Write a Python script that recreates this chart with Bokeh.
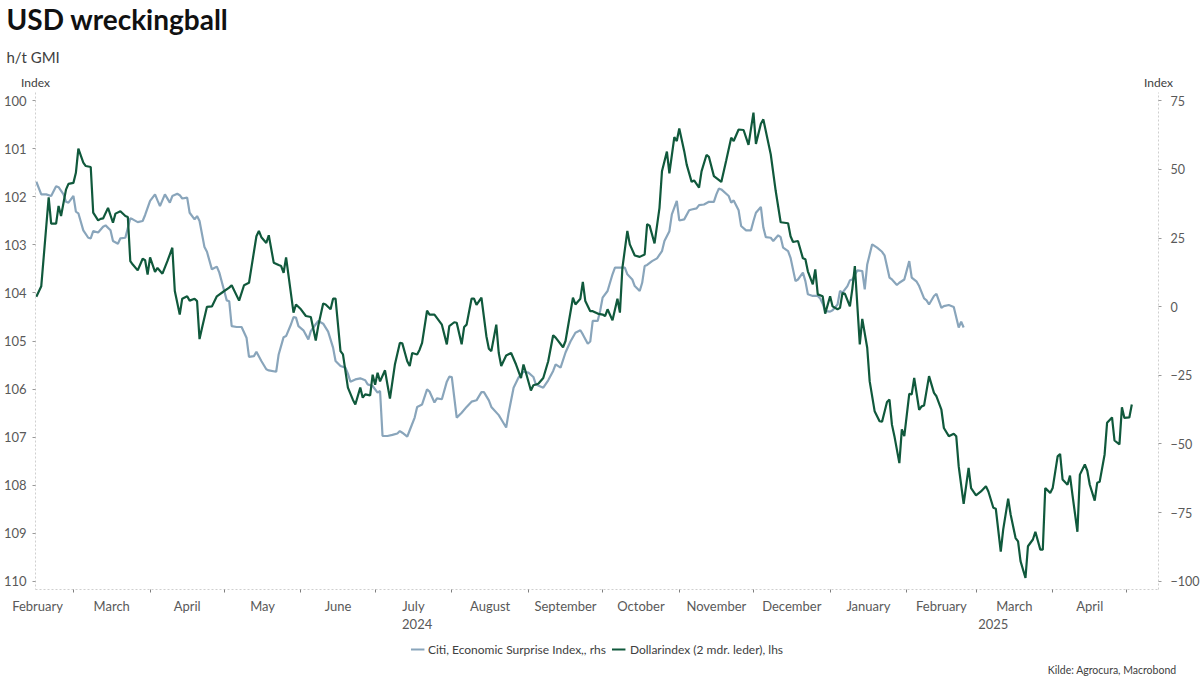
import pandas as pd
from bokeh.plotting import figure
from bokeh.layouts import column
from bokeh.models import (Range1d, LinearAxis, DatetimeAxis, FixedTicker, Legend, LegendItem,
                          Title, ColumnDataSource)
from bokeh.embed import file_html
from bokeh.resources import INLINE

# ---------------- data ----------------
dollar_dates = [
    "2024-02-15", "2024-02-17", "2024-02-20", "2024-02-21", "2024-02-23", "2024-02-24", "2024-02-25", "2024-02-27",
    "2024-02-28", "2024-03-01", "2024-03-02", "2024-03-03", "2024-03-05", "2024-03-06", "2024-03-08", "2024-03-09",
    "2024-03-11", "2024-03-12", "2024-03-13", "2024-03-15", "2024-03-17", "2024-03-18", "2024-03-20", "2024-03-22",
    "2024-03-23", "2024-03-24", "2024-03-25", "2024-03-27", "2024-03-29", "2024-03-30", "2024-03-31", "2024-04-01",
    "2024-04-03", "2024-04-04", "2024-04-06", "2024-04-08", "2024-04-10", "2024-04-11", "2024-04-13", "2024-04-14",
    "2024-04-16", "2024-04-17", "2024-04-19", "2024-04-20", "2024-04-21", "2024-04-22", "2024-04-24", "2024-04-26",
    "2024-04-28", "2024-05-01", "2024-05-03", "2024-05-04", "2024-05-07", "2024-05-09", "2024-05-11", "2024-05-14",
    "2024-05-15", "2024-05-16", "2024-05-18", "2024-05-19", "2024-05-21", "2024-05-23", "2024-05-24", "2024-05-25",
    "2024-05-26", "2024-05-29", "2024-05-30", "2024-06-01", "2024-06-03", "2024-06-05", "2024-06-07", "2024-06-08",
    "2024-06-10", "2024-06-11", "2024-06-13", "2024-06-14", "2024-06-15", "2024-06-17", "2024-06-18", "2024-06-20",
    "2024-06-22", "2024-06-23", "2024-06-25", "2024-06-26", "2024-06-27", "2024-06-29", "2024-06-30", "2024-07-01",
    "2024-07-02", "2024-07-03", "2024-07-05", "2024-07-06", "2024-07-07", "2024-07-09", "2024-07-11", "2024-07-12",
    "2024-07-14", "2024-07-15", "2024-07-16", "2024-07-18", "2024-07-19", "2024-07-20", "2024-07-22", "2024-07-23",
    "2024-07-25", "2024-07-28", "2024-07-30", "2024-07-31", "2024-08-02", "2024-08-03", "2024-08-05", "2024-08-06",
    "2024-08-07", "2024-08-09", "2024-08-10", "2024-08-11", "2024-08-13", "2024-08-15", "2024-08-16", "2024-08-17",
    "2024-08-19", "2024-08-20", "2024-08-21", "2024-08-23", "2024-08-25", "2024-08-27", "2024-08-29", "2024-08-30",
    "2024-08-31", "2024-09-02", "2024-09-03", "2024-09-05", "2024-09-07", "2024-09-09", "2024-09-11", "2024-09-12",
    "2024-09-15", "2024-09-16", "2024-09-19", "2024-09-20", "2024-09-22", "2024-09-23", "2024-09-24", "2024-09-26",
    "2024-09-27", "2024-09-29", "2024-10-01", "2024-10-02", "2024-10-03", "2024-10-05", "2024-10-07", "2024-10-08",
    "2024-10-09", "2024-10-11", "2024-10-12", "2024-10-14", "2024-10-16", "2024-10-18", "2024-10-19", "2024-10-20",
    "2024-10-22", "2024-10-24", "2024-10-25", "2024-10-27", "2024-10-28", "2024-10-30", "2024-10-31", "2024-11-01",
    "2024-11-03", "2024-11-04", "2024-11-06", "2024-11-07", "2024-11-09", "2024-11-10", "2024-11-12", "2024-11-13",
    "2024-11-15", "2024-11-18", "2024-11-20", "2024-11-22", "2024-11-23", "2024-11-25", "2024-11-27", "2024-11-29",
    "2024-12-01", "2024-12-02", "2024-12-04", "2024-12-05", "2024-12-08", "2024-12-10", "2024-12-12", "2024-12-15",
    "2024-12-16", "2024-12-17", "2024-12-19", "2024-12-21", "2024-12-22", "2024-12-23", "2024-12-25", "2024-12-26",
    "2024-12-27", "2024-12-29", "2024-12-30", "2025-01-01", "2025-01-02", "2025-01-04", "2025-01-05", "2025-01-06",
    "2025-01-07", "2025-01-09", "2025-01-10", "2025-01-11", "2025-01-13", "2025-01-14", "2025-01-16", "2025-01-17",
    "2025-01-19", "2025-01-21", "2025-01-22", "2025-01-24", "2025-01-25", "2025-01-26", "2025-01-27", "2025-01-29",
    "2025-01-30", "2025-01-31", "2025-02-02", "2025-02-03", "2025-02-04", "2025-02-06", "2025-02-07", "2025-02-08",
    "2025-02-10", "2025-02-12", "2025-02-13", "2025-02-15", "2025-02-16", "2025-02-18", "2025-02-20", "2025-02-21",
    "2025-02-22", "2025-02-24", "2025-02-26", "2025-02-27", "2025-03-01", "2025-03-03", "2025-03-05", "2025-03-06",
    "2025-03-08", "2025-03-09", "2025-03-11", "2025-03-12", "2025-03-14", "2025-03-15", "2025-03-17", "2025-03-18",
    "2025-03-19", "2025-03-21", "2025-03-22", "2025-03-24", "2025-03-25", "2025-03-27", "2025-03-28", "2025-03-29",
    "2025-03-31", "2025-04-01", "2025-04-03", "2025-04-04", "2025-04-05", "2025-04-07", "2025-04-08", "2025-04-09",
    "2025-04-11", "2025-04-12", "2025-04-14", "2025-04-15", "2025-04-16", "2025-04-18", "2025-04-19", "2025-04-20",
    "2025-04-22", "2025-04-23", "2025-04-25", "2025-04-26", "2025-04-28", "2025-04-29", "2025-04-30", "2025-05-02",
    "2025-05-03",
]
dollar_values = [
    104.08, 103.86, 102.01, 102.56, 102.56, 102.19, 102.40, 101.85,
    101.73, 101.71, 101.50, 101.00, 101.29, 101.36, 101.38, 102.33,
    102.49, 102.46, 102.45, 102.23, 102.54, 102.35, 102.30, 102.40,
    102.42, 103.34, 103.41, 103.53, 103.29, 103.32, 103.62, 103.26,
    103.56, 103.48, 103.60, 103.34, 103.06, 103.96, 104.45, 104.12,
    104.07, 104.16, 104.12, 104.17, 104.96, 104.73, 104.29, 104.28,
    104.07, 103.96, 103.89, 103.84, 104.16, 103.84, 103.79, 102.82,
    102.71, 102.84, 102.96, 102.80, 103.37, 103.42, 103.44, 103.58,
    103.26, 104.41, 104.24, 104.34, 104.48, 104.50, 104.99, 104.69,
    104.22, 104.24, 104.34, 104.12, 104.12, 105.21, 105.28, 105.97,
    106.22, 106.32, 105.97, 106.18, 106.11, 106.13, 105.70, 105.91,
    105.66, 105.84, 105.61, 105.91, 106.20, 105.49, 105.04, 105.05,
    105.42, 105.52, 105.25, 105.28, 105.18, 105.04, 104.37, 104.45,
    104.45, 104.66, 105.07, 104.69, 104.61, 104.62, 105.07, 104.71,
    104.66, 104.12, 104.12, 104.25, 104.10, 104.90, 105.16, 105.21,
    104.66, 105.25, 105.52, 105.30, 105.25, 105.49, 105.77, 105.49,
    105.66, 106.03, 105.92, 105.89, 105.77, 105.42, 104.88, 104.93,
    105.13, 105.00, 104.10, 104.24, 104.12, 103.77, 104.17, 104.38,
    104.38, 104.43, 104.45, 104.48, 104.34, 104.57, 104.12, 104.41,
    103.48, 102.71, 102.99, 103.22, 103.25, 103.20, 102.57, 102.60,
    102.97, 102.23, 101.47, 101.06, 101.51, 100.76, 100.84, 100.58,
    101.05, 101.33, 101.69, 101.66, 101.81, 101.47, 101.13, 101.17,
    101.57, 101.69, 101.24, 100.77, 100.84, 100.60, 100.61, 100.92,
    100.25, 100.90, 100.48, 100.39, 101.12, 101.88, 102.53, 102.55,
    102.82, 102.94, 102.92, 103.28, 103.30, 103.55, 103.82, 103.51,
    104.03, 104.07, 104.43, 104.07, 104.28, 104.34, 104.31, 104.00,
    104.02, 104.28, 103.91, 103.44, 105.07, 104.54, 105.14, 105.84,
    106.46, 106.67, 106.68, 106.27, 106.22, 106.74, 106.98, 107.54,
    106.84, 106.98, 106.10, 106.11, 105.77, 106.43, 106.36, 106.34,
    105.73, 106.08, 106.15, 106.43, 106.81, 106.98, 106.93, 106.98,
    107.61, 108.39, 107.64, 108.06, 108.21, 108.13, 108.02, 108.13,
    108.47, 108.49, 109.38, 108.92, 108.28, 108.61, 109.10, 109.17,
    109.58, 109.93, 109.27, 109.13, 108.97, 109.34, 109.34, 108.06,
    108.16, 108.06, 107.40, 107.35, 107.88, 107.99, 107.80, 108.20,
    108.97, 107.78, 107.57, 107.70, 107.99, 108.32, 107.95, 107.93,
    107.36, 106.70, 106.59, 107.07, 107.15, 106.38, 106.60, 106.59,
    106.32,
]

citi_dates = [
    "2024-02-15", "2024-02-17", "2024-02-19", "2024-02-21", "2024-02-23", "2024-02-24", "2024-02-26", "2024-02-27",
    "2024-02-28", "2024-03-01", "2024-03-02", "2024-03-03", "2024-03-05", "2024-03-07", "2024-03-08", "2024-03-09",
    "2024-03-11", "2024-03-13", "2024-03-14", "2024-03-16", "2024-03-17", "2024-03-19", "2024-03-20", "2024-03-22",
    "2024-03-24", "2024-03-25", "2024-03-27", "2024-03-29", "2024-03-30", "2024-04-01", "2024-04-03", "2024-04-04",
    "2024-04-05", "2024-04-07", "2024-04-09", "2024-04-10", "2024-04-12", "2024-04-13", "2024-04-14", "2024-04-16",
    "2024-04-17", "2024-04-19", "2024-04-20", "2024-04-21", "2024-04-23", "2024-04-24", "2024-04-26", "2024-04-28",
    "2024-04-29", "2024-05-01", "2024-05-02", "2024-05-03", "2024-05-04", "2024-05-06", "2024-05-08", "2024-05-10",
    "2024-05-11", "2024-05-13", "2024-05-14", "2024-05-16", "2024-05-18", "2024-05-19", "2024-05-22", "2024-05-23",
    "2024-05-25", "2024-05-26", "2024-05-28", "2024-05-29", "2024-05-30", "2024-05-31", "2024-06-02", "2024-06-04",
    "2024-06-05", "2024-06-07", "2024-06-08", "2024-06-10", "2024-06-12", "2024-06-14", "2024-06-15", "2024-06-17",
    "2024-06-19", "2024-06-20", "2024-06-21", "2024-06-23", "2024-06-25", "2024-06-27", "2024-06-28", "2024-06-30",
    "2024-07-02", "2024-07-03", "2024-07-04", "2024-07-06", "2024-07-08", "2024-07-10", "2024-07-11", "2024-07-12",
    "2024-07-14", "2024-07-15", "2024-07-17", "2024-07-18", "2024-07-20", "2024-07-22", "2024-07-23", "2024-07-25",
    "2024-07-26", "2024-07-28", "2024-07-30", "2024-07-31", "2024-08-01", "2024-08-03", "2024-08-05", "2024-08-07",
    "2024-08-09", "2024-08-11", "2024-08-13", "2024-08-14", "2024-08-16", "2024-08-17", "2024-08-20", "2024-08-21",
    "2024-08-23", "2024-08-24", "2024-08-26", "2024-08-28", "2024-08-30", "2024-09-01", "2024-09-03", "2024-09-04",
    "2024-09-07", "2024-09-09", "2024-09-11", "2024-09-12", "2024-09-14", "2024-09-16", "2024-09-18", "2024-09-20",
    "2024-09-22", "2024-09-23", "2024-09-25", "2024-09-26", "2024-09-27", "2024-09-29", "2024-09-30", "2024-10-01",
    "2024-10-03", "2024-10-05", "2024-10-06", "2024-10-08", "2024-10-10", "2024-10-11", "2024-10-13", "2024-10-14",
    "2024-10-16", "2024-10-17", "2024-10-18", "2024-10-19", "2024-10-21", "2024-10-23", "2024-10-25", "2024-10-26",
    "2024-10-28", "2024-10-29", "2024-10-31", "2024-11-01", "2024-11-03", "2024-11-05", "2024-11-06", "2024-11-08",
    "2024-11-09", "2024-11-11", "2024-11-13", "2024-11-15", "2024-11-16", "2024-11-17", "2024-11-18", "2024-11-21",
    "2024-11-22", "2024-11-23", "2024-11-25", "2024-11-26", "2024-11-28", "2024-11-30", "2024-12-01", "2024-12-02",
    "2024-12-04", "2024-12-05", "2024-12-06", "2024-12-08", "2024-12-09", "2024-12-11", "2024-12-12", "2024-12-13",
    "2024-12-15", "2024-12-16", "2024-12-18", "2024-12-19", "2024-12-21", "2024-12-22", "2024-12-23", "2024-12-25",
    "2024-12-27", "2024-12-28", "2024-12-29", "2024-12-30", "2025-01-01", "2025-01-02", "2025-01-04", "2025-01-05",
    "2025-01-06", "2025-01-08", "2025-01-09", "2025-01-10", "2025-01-12", "2025-01-14", "2025-01-15", "2025-01-16",
    "2025-01-18", "2025-01-20", "2025-01-22", "2025-01-23", "2025-01-25", "2025-01-26", "2025-01-28", "2025-01-29",
    "2025-01-31", "2025-02-02", "2025-02-03", "2025-02-05", "2025-02-06", "2025-02-08", "2025-02-09", "2025-02-10",
    "2025-02-12", "2025-02-13", "2025-02-15", "2025-02-16", "2025-02-18", "2025-02-20", "2025-02-22", "2025-02-23",
    "2025-02-24",
]
citi_values = [
    45.5, 40.9, 40.9, 40.3, 43.9, 43.5, 40.9, 38.2,
    37.9, 40.3, 34.6, 34.0, 27.8, 25.1, 24.9, 27.5,
    27.0, 29.1, 29.6, 27.8, 23.9, 22.9, 24.9, 25.1,
    32.2, 31.8, 30.8, 31.2, 33.4, 38.5, 40.9, 38.7,
    36.6, 40.9, 37.9, 40.3, 41.1, 40.6, 39.4, 39.7,
    34.2, 31.8, 33.0, 31.2, 21.7, 20.0, 13.6, 14.6,
    12.4, 5.7, 2.3, 2.0, -7.1, -7.4, -7.4, -11.3,
    -18.3, -18.0, -16.4, -19.8, -22.8, -23.2, -23.7, -17.4,
    -11.1, -10.7, -6.4, -3.8, -4.0, -7.1, -8.6, -11.9,
    -8.9, -6.4, -5.2, -6.2, -9.1, -14.9, -19.8, -21.6,
    -22.2, -24.4, -27.3, -26.5, -26.1, -26.8, -28.3, -28.9,
    -31.3, -30.7, -47.1, -47.1, -46.7, -46.2, -45.3, -45.9,
    -47.3, -45.0, -40.4, -36.5, -35.6, -30.1, -30.9, -34.9,
    -33.4, -33.7, -27.3, -25.5, -25.6, -40.4, -38.6, -36.5,
    -34.6, -34.1, -31.1, -31.1, -34.1, -36.5, -39.5, -41.0,
    -44.0, -38.6, -29.5, -25.8, -23.7, -24.0, -25.6, -28.3,
    -29.5, -26.8, -23.4, -21.0, -22.2, -16.7, -12.7, -9.5,
    -8.6, -10.1, -13.5, -12.7, -5.2, -5.2, -1.6, 3.3,
    5.7, 11.8, 14.2, 14.2, 14.2, 11.8, 9.9, 7.5,
    5.7, 8.7, 14.8, 15.2, 16.6, 17.6, 20.2, 23.9,
    27.5, 33.6, 38.5, 31.4, 31.8, 35.1, 35.4, 35.8,
    37.0, 37.2, 38.2, 38.2, 40.9, 43.0, 42.7, 40.3,
    37.9, 38.7, 35.1, 29.4, 27.8, 27.8, 31.2, 34.2,
    36.3, 28.8, 25.3, 25.1, 23.9, 26.0, 25.3, 21.5,
    20.2, 17.8, 9.3, 9.9, 12.4, 9.3, 4.5, 3.9,
    3.9, 3.0, 1.1, -1.6, -1.8, -1.3, 0.8, 5.7,
    5.1, 7.5, 9.6, 9.9, 13.2, 13.0, 6.3, 15.4,
    22.7, 21.5, 20.0, 18.7, 10.6, 9.9, 7.9, 8.7,
    9.9, 16.6, 10.6, 9.1, 7.5, 3.0, 2.3, 0.8,
    3.9, 4.7, -0.4, 0.2, 0.6, -0.1, -7.6, -5.5,
    -7.6,
]

left_ticks = [100, 101, 102, 103, 104, 105, 106, 107, 108, 109, 110]
right_ticks = [-100, -75, -50, -25, 0, 25, 50, 75]
month_starts = ["2024-02-01", "2024-03-01", "2024-04-01", "2024-05-01", "2024-06-01", "2024-07-01",
                "2024-08-01", "2024-09-01", "2024-10-01", "2024-11-01", "2024-12-01", "2025-01-01",
                "2025-02-01", "2025-03-01", "2025-04-01", "2025-05-01"]
month_names = ["February", "March", "April", "May", "June", "July", "August", "September",
               "October", "November", "December", "January", "February", "March", "April"]
year_labels = ["2024", "2025"]
year_label_dates = ["2024-07-18", "2025-03-08"]

series_names = ["Citi, Economic Surprise Index,, rhs", "Dollarindex (2 mdr. leder), lhs"]
title_text = "USD wreckingball"
subtitle_text = "h/t GMI"
axis_unit = "Index"
source_text = "Kilde: Agrocura, Macrobond"

# ---------------- style ----------------
FONT = "Lato"
GREEN = "#10593c"
BLUE = "#89a5bb"
TICK_TXT = "#595959"
AXIS_LINE = "#cfcfcf"
FRAME_W, FRAME_H = 1123, 497
LEFT_B, RIGHT_B, TOP_B, BOTTOM_B = 29, 32, 85, 42


def ms(s):
    return int(pd.Timestamp(s).value // 10**6)


x_start = ms("2024-02-14 16:00")
x_end = ms("2025-05-13 19:00")

# ---------------- main chart ----------------
p = figure(frame_width=FRAME_W, frame_height=FRAME_H, x_axis_type="datetime",
           x_range=Range1d(x_start, x_end), y_range=Range1d(110.17, 99.83),
           output_backend="svg", toolbar_location=None, title=None,
           min_border_left=LEFT_B, min_border_right=RIGHT_B, min_border_top=TOP_B,
           min_border_bottom=BOTTOM_B)
p.extra_y_ranges = {"citi": Range1d(-103.0, 78.0)}
p.outline_line_color = None
p.xgrid.visible = False
p.ygrid.visible = False

src_c = ColumnDataSource(dict(x=pd.to_datetime(citi_dates), y=citi_values))
src_d = ColumnDataSource(dict(x=pd.to_datetime(dollar_dates), y=dollar_values))
p.line("x", "y", source=src_c, line_color=BLUE, line_width=2.2, y_range_name="citi")
p.line("x", "y", source=src_d, line_color=GREEN, line_width=2.2)

# x axis: month names at mid-month, small ticks at month boundaries
starts_ms = [ms(s) for s in month_starts]
mid_ms = [(a + b) // 2 for a, b in zip(starts_ms[:-1], starts_ms[1:])]
xa = p.xaxis[0]
xa.ticker = FixedTicker(ticks=mid_ms, minor_ticks=starts_ms)
xa.major_label_overrides = {m: n for m, n in zip(mid_ms, month_names)}
xa.major_tick_line_color = None
xa.major_tick_in = 0
xa.major_tick_out = 0
xa.minor_tick_in = 0
xa.minor_tick_out = 3
xa.minor_tick_line_color = "#7f7f7f"
xa.axis_line_color = AXIS_LINE
xa.axis_line_dash = "2 2"
xa.major_label_standoff = 5
xa.major_label_text_font = FONT
xa.major_label_text_font_size = "13px"
xa.major_label_text_color = TICK_TXT

# second row: years
year_ms = [ms(d) for d in year_label_dates]
ya2 = DatetimeAxis(ticker=FixedTicker(ticks=year_ms),
                   major_label_overrides={m: t for m, t in zip(year_ms, year_labels)},
                   axis_line_color=None, major_tick_line_color=None, minor_tick_line_color=None,
                   major_tick_in=0, major_tick_out=0, minor_tick_in=0, minor_tick_out=0,
                   major_label_standoff=2, major_label_text_font=FONT,
                   major_label_text_font_size="13px", major_label_text_color=TICK_TXT)
p.add_layout(ya2, "below")

# left axis (inverted dollar index)
la = p.yaxis[0]
la.ticker = FixedTicker(ticks=left_ticks)
la.major_tick_in = 0
la.major_tick_out = 3
la.major_tick_line_color = "#9a9a9a"
la.minor_tick_line_color = None
la.axis_line_color = AXIS_LINE
la.axis_line_dash = "2 2"
la.major_label_standoff = 6
la.major_label_text_font = FONT
la.major_label_text_font_size = "13px"
la.major_label_text_color = TICK_TXT

# right axis (surprise index)
ra = LinearAxis(y_range_name="citi", ticker=FixedTicker(ticks=right_ticks),
                major_tick_in=0, major_tick_out=3, major_tick_line_color="#9a9a9a",
                minor_tick_line_color=None, axis_line_color=AXIS_LINE, axis_line_dash="2 2",
                major_label_standoff=9, major_label_text_font=FONT,
                major_label_text_font_size="12.5px", major_label_text_color=TICK_TXT)
p.add_layout(ra, "right")

# "Index" above both value axes: an unlined axis on top with ticks at the frame edges
unit_ticks = [x_start + 1, x_end - 1]
ua = DatetimeAxis(ticker=FixedTicker(ticks=unit_ticks),
                  major_label_overrides={t: axis_unit for t in unit_ticks},
                  axis_line_color=None, major_tick_line_color=None, minor_tick_line_color=None,
                  major_tick_in=0, major_tick_out=0, minor_tick_in=0, minor_tick_out=0,
                  major_label_standoff=3, major_label_text_font=FONT,
                  major_label_text_font_size="12px", major_label_text_color="#404040")
p.add_layout(ua, "above")

sub = Title(text=subtitle_text, align="left", offset=-LEFT_B, standoff=12, text_font=FONT,
            text_font_size="15px", text_font_style="normal", text_color="#404040")
main = Title(text=title_text, align="left", vertical_align="top", offset=-LEFT_B, standoff=3,
             text_font=FONT, text_font_size="28px", text_font_style="bold", text_color="#111111")
p.add_layout(sub, "above")
p.add_layout(main, "above")

# ---------------- footer (legend + source) ----------------
foot = figure(frame_width=FRAME_W, frame_height=26, x_range=Range1d(0, 1), y_range=Range1d(0, 1),
              output_backend="svg", toolbar_location=None, title=None,
              x_axis_location=None, y_axis_location=None, min_border=0,
              min_border_left=LEFT_B, min_border_right=RIGHT_B)
foot.outline_line_color = None
foot.xgrid.visible = False
foot.ygrid.visible = False
# legend keys: same series, outside this strip's ranges so only the legend glyphs show
lc = foot.line("x", "y", source=src_c, line_color=BLUE, line_width=2.2)
ld = foot.line("x", "y", source=src_d, line_color=GREEN, line_width=2.2)
legend = Legend(items=[LegendItem(label=series_names[0], renderers=[lc]),
                       LegendItem(label=series_names[1], renderers=[ld])],
                orientation="horizontal", location="top_center",
                border_line_color=None, background_fill_alpha=0,
                label_text_font=FONT, label_text_font_size="12px", label_text_color="#404040",
                glyph_width=14, glyph_height=12, label_standoff=4, spacing=6,
                padding=0, margin=10, label_height=16)
foot.add_layout(legend, "center")
src_title = Title(text=source_text, align="right", offset=-18, standoff=8, text_font=FONT,
                  text_font_size="10.5px", text_font_style="normal", text_color="#404040")
foot.add_layout(src_title, "below")

layout = column(p, foot, spacing=0)
open("out.html", "w").write(file_html(layout, INLINE))
